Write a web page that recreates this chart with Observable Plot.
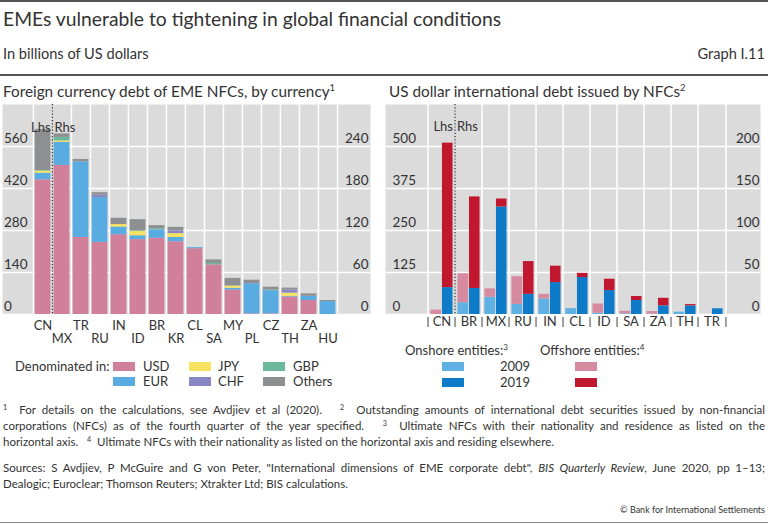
<!DOCTYPE html>
<html><head><meta charset="utf-8">
<script src="https://cdn.jsdelivr.net/npm/d3@7"></script>
<script src="https://cdn.jsdelivr.net/npm/@observablehq/plot@0.6"></script>
<style>
html,body{margin:0;padding:0;background:#fff}
#page{position:relative;width:768px;height:524px;overflow:hidden;font-family:Lato,"Open Sans",sans-serif;color:#333}
.t{position:absolute;white-space:nowrap;line-height:1}
.rule{position:absolute;left:0;width:768px;background:#555}
.sw{position:absolute;width:22px;height:9px}
sup{font-size:62%;line-height:0;vertical-align:0.6em}
.fn{position:absolute;left:3px;width:762px;font-size:11.5px;white-space:nowrap;text-align:justify;text-align-last:justify;line-height:1}
.fn.last{text-align:left;text-align-last:left}
</style></head>
<body><div id="page">
<div class="rule" style="top:0;height:2px"></div>
<div class="t" style="left:3px;top:9px;font-size:19.3px">EMEs vulnerable to tightening in global financial conditions</div>
<div class="t" style="left:3px;top:47px;font-size:14.6px">In billions of US dollars</div>
<div class="t" style="right:3px;top:47px;font-size:14.6px">Graph I.11</div>
<div class="rule" style="top:74px;height:1.5px"></div>
<div class="t" style="left:3px;top:84px;font-size:15.3px">Foreign currency debt of EME NFCs, by currency<sup>1</sup></div>
<div class="t" style="left:389px;top:84px;font-size:15.3px">US dollar international debt issued by NFCs<sup>2</sup></div>
<div id="chartA" style="position:absolute;left:0;top:100px"></div>
<div id="chartB" style="position:absolute;left:384px;top:100px"></div>
<div class="fn" style="top:404px"><sup>1</sup>&nbsp; For details on the calculations, see Avdjiev et al (2020). &nbsp;&nbsp;<sup>2</sup>&nbsp; Outstanding amounts of international debt securities issued by non-financial</div>
<div class="fn" style="top:420px">corporations (NFCs) as of the fourth quarter of the year specified. &nbsp;&nbsp;<sup>3</sup>&nbsp; Ultimate NFCs with their nationality and residence as listed on the</div>
<div class="fn last" style="top:436px">horizontal axis. &nbsp;&nbsp;<sup>4</sup>&nbsp; Ultimate NFCs with their nationality as listed on the horizontal axis and residing elsewhere.</div>
<div class="fn" style="top:462px">Sources: S Avdjiev, P McGuire and G von Peter, "International dimensions of EME corporate debt", <i>BIS Quarterly Review</i>, June 2020, pp 1–13;</div>
<div class="fn last" style="top:478px">Dealogic; Euroclear; Thomson Reuters; Xtrakter Ltd; BIS calculations.</div>
<div class="t" style="right:3px;top:505px;font-size:9px">© Bank for International Settlements</div>
<div class="rule" style="top:522px;height:1px;background:#888"></div>
</div>
<script>
// ---------- Left panel data ----------
const countriesA = ["CN","MX","TR","RU","IN","ID","BR","KR","CL","SA","MY","PL","CZ","TH","ZA","HU"];
const lhsCountriesA = ["CN"];
const currencies = ["USD","EUR","JPY","CHF","GBP","Others"];
const usd    = [449, 213, 110, 103, 114, 107, 109, 104, 94, 71, 35, 1, 1, 25, 20, 0];
const eur    = [22, 33, 108, 64, 11, 5.5, 12, 6, 1.5, 0, 2.5, 43, 33, 1, 6, 18.5];
const jpy    = [7, 2, 0, 0, 3.5, 6, 0, 5.5, 0, 0, 3, 0, 0, 4.5, 0, 0];
const chf    = [0, 0, 0, 3.5, 0, 0, 0, 4, 0, 0, 0, 0, 0, 4.5, 0, 0];
const gbp    = [2, 5, 0, 0, 0, 1, 1.5, 0, 0, 2, 0.5, 0, 1, 0, 0, 0];
const others = [137, 5, 3.5, 3.5, 9, 16, 4.5, 5, 0, 5, 10.5, 5, 4, 2.7, 3.5, 1.5];
const lhsTicksA = [0, 140, 280, 420, 560];
const rhsTicksA = [0, 60, 120, 180, 240];

// ---------- Right panel data ----------
const countriesB = ["CN","BR","MX","RU","IN","CL","ID","SA","ZA","TH","TR"];
const lhsCountriesB = ["CN"];
const years = [2009, 2019];
const onshore2009  = [0, 14, 20.5, 12, 18.5, 7, 1.5, 0.8, 0.5, 2.8, 0];
const offshore2009 = [13, 34.5, 10, 33, 5.5, 0, 11, 3, 3, 0, 0];
const onshore2019  = [80, 31, 128, 24, 38, 44, 28.5, 16.7, 10.3, 10.3, 6.8];
const offshore2019 = [430, 109, 9.5, 39, 19.5, 5, 13.5, 4.7, 9, 1.5, 0];
const lhsTicksB = [0, 125, 250, 375, 500];
const rhsTicksB = [0, 50, 100, 150, 200];

// ---------- styling ----------
const font = "Lato, 'Open Sans', sans-serif";
const bg = "#dbdbdc";
const colorsA = ["#d0809b", "#58ace2", "#f7e35f", "#8b87c7", "#6cb89b", "#8e8f91"];
const keysB = ["on2009", "off2009", "on2019", "off2019"];
const colorsB = ["#5fb1e4", "#d58aa0", "#0e7bc8", "#c1172f"];
const white = {stroke: "#fff", strokeOpacity: 1, strokeWidth: 1.5};
const tickFont = 13.5;

// ---------- Left chart ----------
const last = a => a[a.length - 1];
const rA = last(lhsTicksA) / last(rhsTicksA);
const topA = last(lhsTicksA) + (lhsTicksA[1] - lhsTicksA[0]);
const seriesA = {USD: usd, EUR: eur, JPY: jpy, CHF: chf, GBP: gbp, Others: others};
const rowsA = countriesA.flatMap((c, i) => currencies.map(cur => ({
  country: c, currency: cur, v: seriesA[cur][i] * (lhsCountriesA.includes(c) ? 1 : rA)
})));
const rangeA = [32, 338];
const bwA = (rangeA[1] - rangeA[0]) / countriesA.length;

const chartA = Plot.plot({
  width: 385, height: 250, marginTop: 4, marginBottom: 36, marginLeft: 2, marginRight: 15,
  style: {fontFamily: font, fontSize: "13px", color: "#333", background: "transparent", overflow: "visible"},
  x: {domain: countriesA, range: rangeA, padding: 0, axis: null},
  y: {domain: [0, topA], axis: null},
  color: {domain: currencies, range: colorsA},
  marks: [
    Plot.frame({fill: bg}),
    Plot.gridY(lhsTicksA, white),
    Plot.ruleX(countriesA.filter((c, i) => i !== 1), {x: d => d, dx: -bwA / 2, ...white}),
    Plot.ruleX(countriesA.slice(-1), {x: d => d, dx: bwA / 2, ...white}),
    Plot.barY(rowsA, Plot.stackY({x: "country", y: "v", fill: "currency", order: currencies, insetLeft: 1.6, insetRight: 1.6})),
    Plot.ruleX(countriesA.slice(1, 2), {x: d => d, dx: -bwA / 2, stroke: "#333", strokeWidth: 1.2, strokeDasharray: "1.2,2"}),
    Plot.text([{t: "Lhs", c: countriesA[0]}], {x: "c", text: "t", frameAnchor: "top", dy: 18, dx: bwA / 2 - 2, textAnchor: "end", fontSize: 13}),
    Plot.text([{t: "Rhs", c: countriesA[1]}], {x: "c", text: "t", frameAnchor: "top", dy: 18, dx: -bwA / 2 + 2, textAnchor: "start", fontSize: 13}),
    Plot.axisY(lhsTicksA, {anchor: "left", tickSize: 0, tickPadding: 3, textAnchor: "start", dx: 4.5, dy: -8, label: null, fontSize: tickFont}),
    Plot.axisY(rhsTicksA.map(v => v * rA), {anchor: "right", tickSize: 0, tickPadding: 3, textAnchor: "end", dx: -5, dy: -8, label: null, fontSize: tickFont, tickFormat: d => String(Math.round(d / rA))}),
    Plot.axisX(countriesA.filter((c, i) => i % 2 === 0), {anchor: "bottom", tickSize: 0, tickPadding: 6, label: null, fontSize: 13}),
    Plot.axisX(countriesA.filter((c, i) => i % 2 === 1), {anchor: "bottom", tickSize: 0, tickPadding: 19, label: null, fontSize: 13})
  ]
});
document.getElementById("chartA").appendChild(chartA);

// ---------- Right chart ----------
const rB = last(lhsTicksB) / last(rhsTicksB);
const topB = last(lhsTicksB) + (lhsTicksB[1] - lhsTicksB[0]);
const seriesB = {on2009: onshore2009, off2009: offshore2009, on2019: onshore2019, off2019: offshore2019};
const rowsB = countriesB.flatMap((c, i) => years.flatMap(yr => ["on", "off"].map(e => ({
  country: c, year: yr, key: e + yr, v: seriesB[e + yr][i] * (lhsCountriesB.includes(c) ? 1 : rB)
}))));
const rangeB = [38.7, 345.7];
const bwB = (rangeB[1] - rangeB[0]) / countriesB.length;
const padB = 2.45;

const chartB = Plot.plot({
  width: 384, height: 250, marginTop: 4, marginBottom: 36, marginLeft: 1, marginRight: 8,
  style: {fontFamily: font, fontSize: "13px", color: "#333", background: "transparent", overflow: "visible"},
  x: {domain: countriesB, range: rangeB, padding: 0, axis: null},
  y: {domain: [0, topB], axis: null},
  color: {domain: keysB, range: colorsB},
  marks: [
    Plot.frame({fill: bg}),
    Plot.gridY(lhsTicksB, white),
    Plot.ruleX(countriesB.filter((c, i) => i !== 1), {x: d => d, dx: -bwB / 2, ...white}),
    Plot.ruleX(countriesB.slice(-1), {x: d => d, dx: bwB / 2, ...white}),
    Plot.barY(rowsB.filter(d => d.year === years[0]), Plot.stackY({x: "country", y: "v", fill: "key", order: keysB, insetLeft: padB, insetRight: bwB / 2})),
    Plot.barY(rowsB.filter(d => d.year === years[1]), Plot.stackY({x: "country", y: "v", fill: "key", order: keysB, insetLeft: bwB / 2, insetRight: padB})),
    Plot.ruleX(countriesB.slice(1, 2), {x: d => d, dx: -bwB / 2, stroke: "#333", strokeWidth: 1.2, strokeDasharray: "1.2,2"}),
    Plot.text([{t: "Lhs", c: countriesB[0]}], {x: "c", text: "t", frameAnchor: "top", dy: 17, dx: bwB / 2 - 3, textAnchor: "end", fontSize: 13}),
    Plot.text([{t: "Rhs", c: countriesB[1]}], {x: "c", text: "t", frameAnchor: "top", dy: 17, dx: -bwB / 2 + 2, textAnchor: "start", fontSize: 13}),
    Plot.axisY(lhsTicksB, {anchor: "left", tickSize: 0, tickPadding: 3, textAnchor: "start", dx: 10, dy: -8, label: null, fontSize: tickFont}),
    Plot.axisY(rhsTicksB.map(v => v * rB), {anchor: "right", tickSize: 0, tickPadding: 3, textAnchor: "end", dx: -4, dy: -8, label: null, fontSize: tickFont, tickFormat: d => String(Math.round(d / rB))}),
    Plot.axisX(countriesB, {anchor: "bottom", tickSize: 0, tickPadding: 2, label: null, fontSize: 13}),
    Plot.axisX(countriesB, {anchor: "bottom", tickSize: 10, tickFormat: () => "", dx: -bwB / 2, dy: 3, label: null, stroke: "#444"}),
    Plot.axisX(countriesB.slice(-1), {anchor: "bottom", tickSize: 10, tickFormat: () => "", dx: bwB / 2, dy: 3, label: null, stroke: "#444"})
  ]
});
document.getElementById("chartB").appendChild(chartB);

// ---------- Legends (HTML) ----------
function addText(parent, txt, left, top, size) {
  const d = document.createElement("div");
  d.className = "t"; d.style.left = left + "px"; d.style.top = top + "px"; d.style.fontSize = size + "px";
  d.innerHTML = txt; parent.appendChild(d);
}
function addSwatch(parent, color, left, top) {
  const d = document.createElement("div");
  d.className = "sw"; d.style.left = left + "px"; d.style.top = top + "px"; d.style.background = color;
  parent.appendChild(d);
}
const page = document.getElementById("page");
addText(page, "Denominated in:", 15, 360, 13);
const legPosA = [[113, 143, 362], [113, 143, 377], [189, 218, 362], [189, 218, 377], [263, 293, 362], [263, 293, 377]];
const legOrderA = ["USD", "EUR", "JPY", "CHF", "GBP", "Others"];
legOrderA.forEach((cur, k) => {
  const [sx, tx, ty] = legPosA[k];
  addSwatch(page, colorsA[currencies.indexOf(cur)], sx, ty);
  addText(page, cur, tx, ty - 2, 13);
});
addText(page, "Onshore entities:<sup>3</sup>", 405, 344, 13);
addText(page, "Offshore entities:<sup>4</sup>", 540, 344, 13);
years.forEach((yr, k) => {
  const ty = 362 + k * 16;
  addSwatch(page, colorsB[keysB.indexOf("on" + yr)], 442, ty);
  addText(page, String(yr), 500, ty - 2, 13);
  addSwatch(page, colorsB[keysB.indexOf("off" + yr)], 575, ty);
});
</script>
</body></html>
